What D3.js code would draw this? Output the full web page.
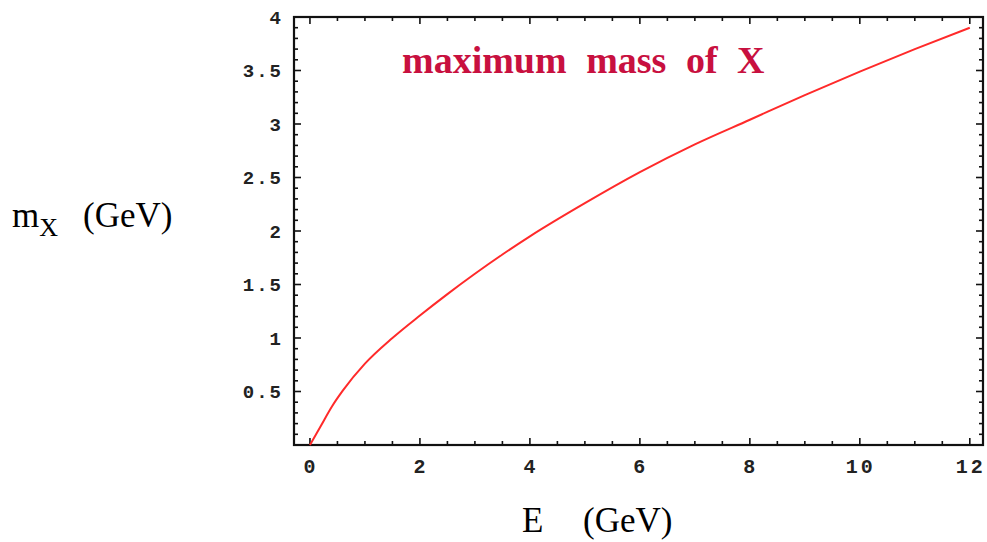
<!DOCTYPE html>
<html>
<head>
<meta charset="utf-8">
<script src="https://cdn.jsdelivr.net/npm/d3@7"></script>
<style>
  body { margin: 0; background: #fff; }
  svg { display: block; }
</style>
</head>
<body>
<div id="chart"></div>
<script>
// values
const energy = [0, 0.2, 0.4, 0.6, 1.0, 1.5, 2.0, 2.5, 3.0, 3.5, 4.0, 5.0, 6.0, 7.0, 8.0, 9.0, 10.0, 11.0, 12.0];
const massX  = [0, 0.18, 0.36, 0.51, 0.76, 1.0, 1.21, 1.41, 1.60, 1.78, 1.95, 2.26, 2.55, 2.81, 3.04, 3.27, 3.49, 3.70, 3.90];
const xTickLabels = [0, 2, 4, 6, 8, 10, 12];
const yTickLabels = [0.5, 1, 1.5, 2, 2.5, 3, 3.5, 4];

const width = 987, height = 542;

const x = d3.scaleLinear().domain([-0.29, 12.24]).range([294, 983]);
const y = d3.scaleLinear().domain([0, 4]).range([445, 17]);

const svg = d3.select("#chart")
  .append("svg")
  .attr("width", width)
  .attr("height", height);

// minor / major ticks
const xTicks = d3.range(0, 12.001, 0.5);
const yTicks = d3.range(1, 41).map(d => d / 10);
const isMajorX = d => Math.abs(d / 2 - Math.round(d / 2)) < 1e-6;
const isMajorY = d => Math.abs(d * 2 - Math.round(d * 2)) < 1e-6;

const ticks = svg.append("g")
  .attr("stroke", "#111")
  .attr("stroke-width", 1.6);

ticks.selectAll(".tb")
  .data(xTicks)
  .join("line")
  .attr("x1", d => x(d)).attr("x2", d => x(d))
  .attr("y1", y(0)).attr("y2", d => y(0) - (isMajorX(d) ? 7 : 4));

ticks.selectAll(".tt")
  .data(xTicks)
  .join("line")
  .attr("x1", d => x(d)).attr("x2", d => x(d))
  .attr("y1", y(4)).attr("y2", d => y(4) + (isMajorX(d) ? 7 : 4));

ticks.selectAll(".tl")
  .data(yTicks)
  .join("line")
  .attr("y1", d => y(d)).attr("y2", d => y(d))
  .attr("x1", x.range()[0]).attr("x2", d => x.range()[0] + (isMajorY(d) ? 7 : 4));

ticks.selectAll(".tr")
  .data(yTicks)
  .join("line")
  .attr("y1", d => y(d)).attr("y2", d => y(d))
  .attr("x1", x.range()[1]).attr("x2", d => x.range()[1] - (isMajorY(d) ? 7 : 4));

// frame
svg.append("rect")
  .attr("x", x.range()[0])
  .attr("y", y(4))
  .attr("width", x.range()[1] - x.range()[0])
  .attr("height", y(0) - y(4))
  .attr("fill", "none")
  .attr("stroke", "#111")
  .attr("stroke-width", 2.2);

// tick labels
const tickFont = "'Liberation Mono', 'Courier New', monospace";

svg.append("g")
  .selectAll("text")
  .data(xTickLabels)
  .join("text")
  .attr("x", d => x(d) + 1)
  .attr("y", 473)
  .attr("text-anchor", "middle")
  .attr("font-family", tickFont)
  .attr("font-size", 20)
  .attr("font-weight", "bold")
  .attr("letter-spacing", 3)
  .attr("fill", "#222")
  .text(d => d);

svg.append("g")
  .selectAll("text")
  .data(yTickLabels)
  .join("text")
  .attr("x", 283)
  .attr("y", d => y(d))
  .attr("dy", "0.35em")
  .attr("text-anchor", "end")
  .attr("font-family", tickFont)
  .attr("font-size", 19)
  .attr("font-weight", "bold")
  .attr("letter-spacing", 2)
  .attr("fill", "#222")
  .text(d => d);

// curve
const line = d3.line()
  .x((d, i) => x(energy[i]))
  .y(d => y(d))
  .curve(d3.curveMonotoneX);

svg.append("path")
  .datum(massX)
  .attr("fill", "none")
  .attr("stroke", "#ff2a2a")
  .attr("stroke-width", 2)
  .attr("d", line);

// title inside plot
svg.append("text")
  .attr("x", 402)
  .attr("y", 73)
  .attr("font-family", "'Liberation Serif', 'Times New Roman', serif")
  .attr("font-weight", "bold")
  .attr("font-size", 38)
  .attr("word-spacing", 10)
  .attr("fill", "#c8103f")
  .text("maximum mass of X");

// axis labels
const serif = "'Liberation Serif', 'Times New Roman', serif";

const yLab = svg.append("text")
  .attr("x", 12)
  .attr("y", 227)
  .attr("font-family", serif)
  .attr("font-size", 35)
  .attr("fill", "#000");
yLab.append("tspan").text("m");
yLab.append("tspan").attr("font-size", 26).attr("dy", 9).text("X");
yLab.append("tspan").attr("x", 83).attr("dy", -9).text("(GeV)");

const xLab = svg.append("text")
  .attr("x", 522)
  .attr("y", 532)
  .attr("font-family", serif)
  .attr("font-size", 35)
  .attr("fill", "#000");
xLab.append("tspan").text("E");
xLab.append("tspan").attr("x", 583).text("(GeV)");
</script>
</body>
</html>
